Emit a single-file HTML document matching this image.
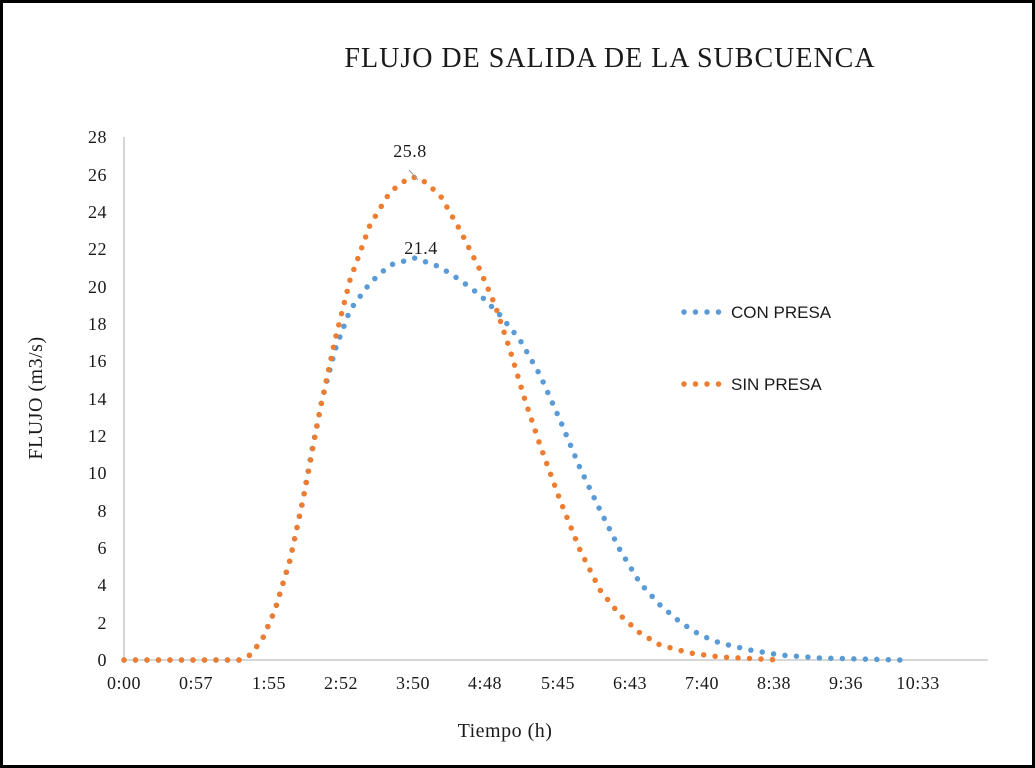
<!DOCTYPE html>
<html><head><meta charset="utf-8"><style>
html,body{margin:0;padding:0;background:#fff}
svg{display:block}
text{font-family:"Liberation Serif",serif;fill:#1a1a1a}
</style></head><body>
<svg width="1035" height="768" viewBox="0 0 1035 768">
<rect x="1.5" y="1.5" width="1032" height="765" fill="#fff" stroke="#000" stroke-width="3"/>
<text x="610" y="67" font-size="28" letter-spacing="1" text-anchor="middle">FLUJO DE SALIDA DE LA SUBCUENCA</text>
<g stroke="#bfbfbf" stroke-width="1.3"><line x1="124" y1="137" x2="124" y2="660"/><line x1="124" y1="660" x2="988" y2="660"/></g>
<g font-size="18" text-anchor="end" letter-spacing="0.5">
<text x="107" y="666">0</text><text x="107" y="629">2</text><text x="107" y="591">4</text><text x="107" y="554">6</text><text x="107" y="517">8</text><text x="107" y="479">10</text><text x="107" y="442">12</text><text x="107" y="405">14</text><text x="107" y="367">16</text><text x="107" y="330">18</text><text x="107" y="293">20</text><text x="107" y="255">22</text><text x="107" y="218">24</text><text x="107" y="181">26</text><text x="107" y="143">28</text>
</g>
<g font-size="18" text-anchor="middle" letter-spacing="0.5">
<text x="124" y="689">0:00</text><text x="196" y="689">0:57</text><text x="269" y="689">1:55</text><text x="341" y="689">2:52</text><text x="413" y="689">3:50</text><text x="485" y="689">4:48</text><text x="558" y="689">5:45</text><text x="630" y="689">6:43</text><text x="702" y="689">7:40</text><text x="774" y="689">8:38</text><text x="846" y="689">9:36</text><text x="918" y="689">10:33</text>
</g>
<text x="505" y="737" font-size="20" letter-spacing="0.5" text-anchor="middle">Tiempo (h)</text>
<text transform="translate(42,398) rotate(-90)" font-size="20" letter-spacing="0.5" text-anchor="middle">FLUJO  (m3/s)</text>
<g fill="none" stroke-linecap="round" stroke-width="5.5" stroke-dasharray="0 11.5">
<polyline stroke="#5b9bd5" points="124,660 240,660 250,655 262,640 275,610 290,560 302,505 312,450 322,400 335,350 350,310 370,283 390,265 415,258 440,267 460,280 480,295 500,315 520,340 540,375 560,420 580,468 600,510 620,550 640,583 660,605 680,622 700,635 720,643 750,650 780,655 820,658 900,660"/>
<polyline stroke="#ed7d31" points="124,660 240,660 250,655 262,640 275,610 290,560 305,490 320,410 335,340 350,280 370,225 390,192 410,177 420,178 440,195 460,230 480,270 495,305 510,350 525,400 540,445 560,500 580,550 600,590 620,615 640,633 660,645 690,653 720,657 780,660"/>
<polyline stroke="#5b9bd5" points="684,312 722,312"/>
<polyline stroke="#ed7d31" points="684,384 722,384"/>
</g>
<line x1="409" y1="170" x2="418" y2="180" stroke="#999" stroke-width="1"/>
<text x="410" y="157" font-size="18" letter-spacing="0.5" text-anchor="middle">25.8</text>
<text x="421" y="254" font-size="18" letter-spacing="0.5" text-anchor="middle">21.4</text>
<text x="731" y="318" font-size="17" style="font-family:'Liberation Sans',sans-serif">CON PRESA</text>
<text x="731" y="390" font-size="17" style="font-family:'Liberation Sans',sans-serif">SIN PRESA</text>
</svg>
</body></html>
